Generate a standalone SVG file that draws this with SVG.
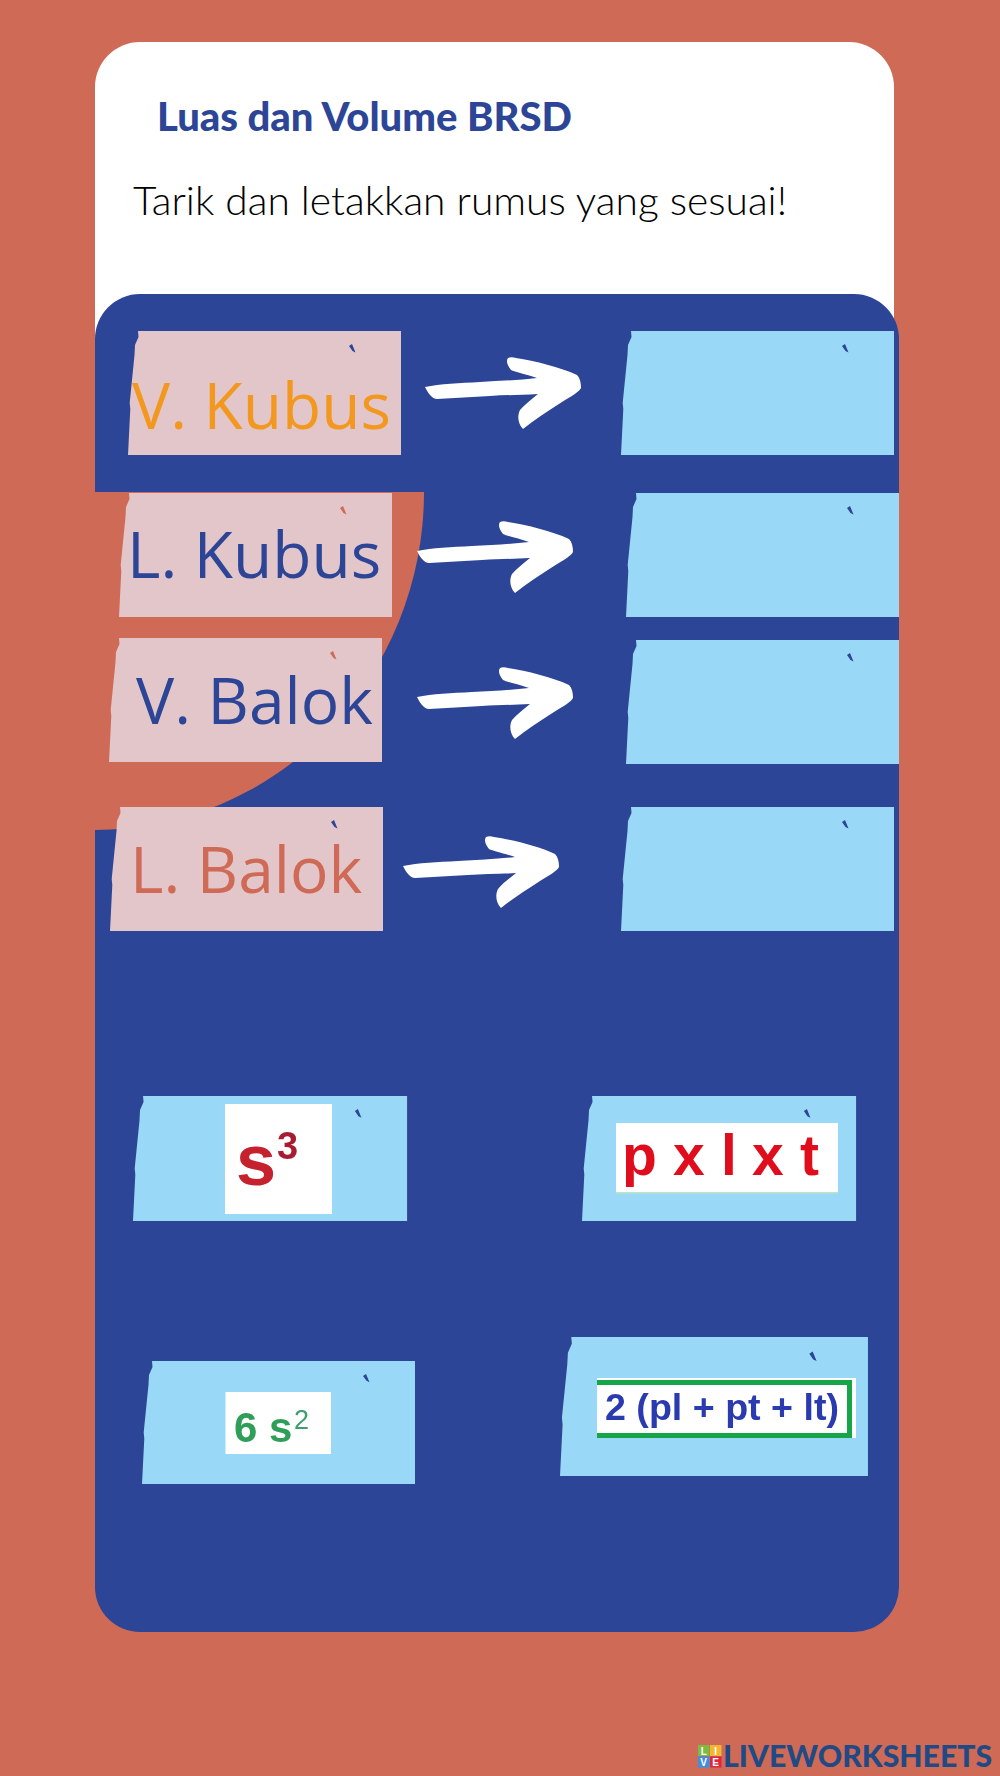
<svg xmlns="http://www.w3.org/2000/svg" xmlns:xlink="http://www.w3.org/1999/xlink" width="1000" height="1776" viewBox="0 0 1000 1776">
<style>
.pink{fill:#E3C6CA}.sky{fill:#99D9F7}
.lbl{font-family:"Open Sans","Noto Sans",sans-serif;font-size:64px}
.f{font-family:"Liberation Sans",Arial,sans-serif;font-weight:700;filter:url(#soft)}
</style>
<defs>
<filter id="soft" x="-10%" y="-10%" width="120%" height="120%"><feGaussianBlur stdDeviation="0.7"/></filter>
<path id="tape" fill-rule="evenodd" d="M10 0H273V124H0L2.300 78L1.700 72L6.500 24L7 14L10.500 6ZM221 15L224 13L227.500 21.500L224.500 20Z"/>
<path id="arrow" fill="#fff" d="M425 387C440 384 460 383 480 382C500 381 520 380 537 378C525 374 515 372 511 370C507 365 506 361 508 358C510 357 513 357 516 358C535 361 560 367 577 375C580 378 581 383 581 388C579 392 572 396 562 402C548 411 534 420 523 429C518 424 517 416 520 410C525 404 532 399 538 394C520 395 505 395 490 396C472 397 455 398 437 399C432 399 428 393 425 387Z"/>
</defs>
<rect id="background" width="1000" height="1776" fill="#CE6A55"/>
<rect id="card" x="95" y="42" width="799" height="340" rx="45" fill="#fff"/>
<rect id="panel" x="95" y="294" width="804" height="1338" rx="45" fill="#2D4596"/>
<path id="corner" d="M95 492H424A329 338 0 0 1 95 830Z" fill="#CE6A55"/>
<text id="title" x="157" y="131" textLength="415" lengthAdjust="spacingAndGlyphs" font-family="Lato,sans-serif" font-weight="900" font-size="39" fill="#2D4596">Luas dan Volume BRSD</text>
<text id="instruction" x="133" y="215" textLength="654" lengthAdjust="spacingAndGlyphs" font-family="Lato,sans-serif" font-weight="300" font-size="39" fill="#000">Tarik dan letakkan rumus yang sesuai!</text>
<g id="connectors">
<use xlink:href="#arrow" href="#arrow"/>
<use xlink:href="#arrow" href="#arrow" transform="translate(-8 164)"/>
<use xlink:href="#arrow" href="#arrow" transform="translate(-8 310)"/>
<use xlink:href="#arrow" href="#arrow" transform="translate(-22 479)"/>
</g>
<g id="label-v-kubus"><use href="#tape" class="pink" x="128" y="331"/><text class="lbl" x="132" y="429" fill="#F2981F">V. Kubus</text></g>
<g id="label-l-kubus"><use href="#tape" class="pink" x="119" y="493"/><text class="lbl" x="127" y="578" fill="#2D4596">L. Kubus</text></g>
<g id="label-v-balok"><use href="#tape" class="pink" x="109" y="638"/><text class="lbl" x="136" y="724" fill="#2D4596">V. Balok</text></g>
<g id="label-l-balok"><use href="#tape" class="pink" x="110" y="807"/><text class="lbl" x="130" y="893" fill="#CE6A55">L. Balok</text></g>
<g id="slot-1"><use href="#tape" class="sky" x="621" y="331"/></g>
<g id="slot-2"><use href="#tape" class="sky" x="626" y="493"/></g>
<g id="slot-3"><use href="#tape" class="sky" x="626" y="640"/></g>
<g id="slot-4"><use href="#tape" class="sky" x="621" y="807"/></g>
<g id="formula-s3">
<use href="#tape" class="sky" transform="translate(133 1096) scale(1.004 1.008)"/>
<rect x="225" y="1104" width="107" height="110" fill="#fff"/>
<text class="f" x="236" y="1185" font-size="72" fill="#C6202E">s</text>
<text class="f" x="277" y="1159" font-size="38" fill="#A81E32">3</text>
</g>
<g id="formula-pxlxt">
<use href="#tape" class="sky" transform="translate(582 1096) scale(1.004 1.008)"/>
<rect x="616" y="1123" width="222" height="70" fill="#fff"/>
<rect x="616" y="1192" width="222" height="1.500" fill="#BDE5C0"/>
<text class="f" x="622 650 673 700 721 735 752 785 800" y="1175" font-size="57" fill="#E0101F">p x l x t</text>
</g>
<g id="formula-6s2">
<use href="#tape" class="sky" transform="translate(142 1361) scale(1 .992)"/>
<rect x="225.500" y="1392" width="105.500" height="62" fill="#fff"/>
<text class="f" x="234" y="1442" font-size="42" fill="#2E9E58">6 s</text>
<text x="294" y="1429" font-family="Liberation Sans,sans-serif" font-size="27" fill="#3E9E70" style="filter:url(#soft)">2</text>
</g>
<g id="formula-2pl">
<use href="#tape" class="sky" transform="translate(560 1337) scale(1.128 1.121)"/>
<rect x="597" y="1378" width="259" height="60" fill="#fff"/>
<path d="M597 1382.500H849.500V1435.500H597" fill="none" stroke="#17A549" stroke-width="5"/>
<text class="f" x="605" y="1420" font-size="37" textLength="234" lengthAdjust="spacingAndGlyphs" fill="#2C3AB0">2 (pl + pt + lt)</text>
</g>
<g id="logo">
<rect x="698" y="1745" width="11.500" height="11" fill="#7DBB42"/>
<rect x="710" y="1745" width="11.500" height="11" fill="#F2B632"/>
<rect x="698" y="1756.500" width="11.500" height="11" fill="#3F8FE0"/>
<rect x="710" y="1756.500" width="11.500" height="11" fill="#E0263F"/>
<g font-family="Liberation Sans,sans-serif" font-weight="700" font-size="10" fill="#fff" text-anchor="middle">
<text x="703.700" y="1754.500">L</text><text x="715.700" y="1754.500">I</text><text x="703.700" y="1766">V</text><text x="715.700" y="1766">E</text>
</g>
<text x="723" y="1767" textLength="269" lengthAdjust="spacingAndGlyphs" font-family="Lato,sans-serif" font-weight="900" font-size="30" fill="#1F4A85">LIVEWORKSHEETS</text>
</g>
</svg>
